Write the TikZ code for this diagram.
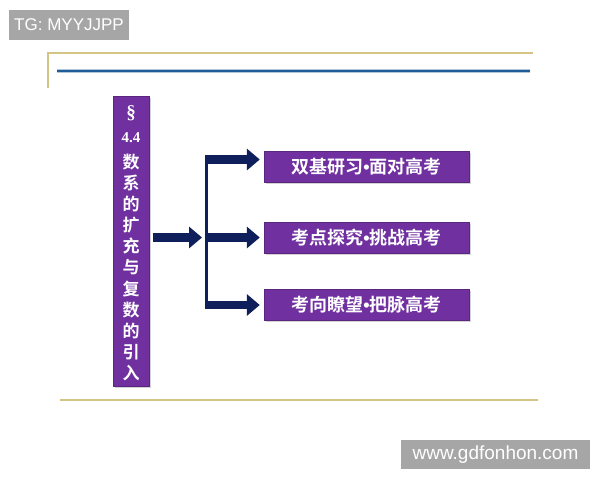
\documentclass[tikz,border=0pt]{standalone}
\usepackage{fontspec}
\setmainfont{Liberation Sans}
\newfontfamily\cjk{Noto Sans CJK SC}[BoldFont={Noto Sans CJK SC Bold}]
\newfontfamily\serifnum{Liberation Serif}
\usetikzlibrary{arrows.meta,shadows}
\definecolor{kpurple}{HTML}{7030A0}
\definecolor{knavy}{HTML}{0F1F5C}
\definecolor{kgold}{HTML}{D2C585}
\definecolor{kblue}{HTML}{1F5C99}
\definecolor{kgray}{HTML}{A6A6A6}
\newcommand{\dotsep}{{\rmfamily\textbullet}}
\tikzset{
  topicbox/.style={fill=kpurple,draw=kpurple!80!black,line width=0.4pt,minimum width=205pt,minimum height=31pt,
    inner sep=0pt,text=white,font=\cjk\bfseries\fontsize{18}{18}\selectfont,
    drop shadow={opacity=0.35,shadow xshift=1.5pt,shadow yshift=-1.5pt}},
  navyarrow/.style={knavy,line width=8.5pt,-{Triangle[length=13pt,width=21pt]}},
  markbox/.style={fill=kgray,text=white,inner sep=0pt}
}
\begin{document}
\begin{tikzpicture}[x=1pt,y=-1pt]
\useasboundingbox (0,0) rectangle (600,480);
% watermarks
\node[markbox,minimum width=120pt,minimum height=30pt,font=\fontsize{17}{17}\selectfont] (tg) at (69,25) {TG: MYYJJPP};
\node[markbox,minimum width=189pt,minimum height=29pt,font=\fontsize{19}{19}\selectfont] (www) at (495.5,454.5) {www.gdfonhon.com};
% frame lines
\draw[kgold,line width=1.5pt] (48,88)--(48,53)--(533,53);
\draw[kblue!35,line width=3.5pt] (57,71)--(530,71);
\draw[kblue,line width=1.8pt] (57,71)--(530,71);
\draw[kgold,line width=2pt] (60,399.5)--(538,399.5);
% left title box
\node[fill=kpurple,draw=kpurple!80!black,line width=0.4pt,minimum width=36pt,minimum height=290pt,inner sep=0pt,
  drop shadow={opacity=0.35,shadow xshift=1.5pt,shadow yshift=-1.5pt}] (title) at (131,241) {};
\node[text=white,font=\serifnum\bfseries\fontsize{19}{19}\selectfont] (sect) at (131,113) {\S};
\node[text=white,font=\serifnum\bfseries\fontsize{15}{15}\selectfont] (num) at (131,138) {4.4};
\foreach \ch [count=\i from 0] in {数,系,的,扩,充,与,复,数,的,引,入}
  \node[text=white,font=\cjk\bfseries\fontsize{17}{17}\selectfont] (ch\i) at (131,162+21.1*\i) {\ch};
% right boxes
\node[topicbox] (jichu) at (366.5,166.5) {双基研习\dotsep 面对高考};
\node[topicbox] (kaodian) at (366.5,237.5) {考点探究\dotsep 挑战高考};
\node[topicbox] (kaoxiang) at (366.5,304.5) {考向瞭望\dotsep 把脉高考};
% connectors
\coordinate (branch) at (206.5,237.5);
\coordinate (btop) at (206.5,159.5);
\coordinate (bbot) at (206.5,305);
\draw[navyarrow] (title.east |- branch) ++(3.5,0) -- ([xshift=-4.5pt]branch);
\draw[knavy,line width=3pt] ([yshift=4pt]btop)--([yshift=-4pt]bbot);
\draw[navyarrow] ([xshift=-1.5pt]btop) -- ([xshift=-4pt]jichu.west |- btop);
\draw[navyarrow] ([xshift=-1.5pt]branch) -- ([xshift=-4pt]kaodian.west |- branch);
\draw[navyarrow] ([xshift=-1.5pt]bbot) -- ([xshift=-4pt]kaoxiang.west |- bbot);
\end{tikzpicture}
\end{document}
